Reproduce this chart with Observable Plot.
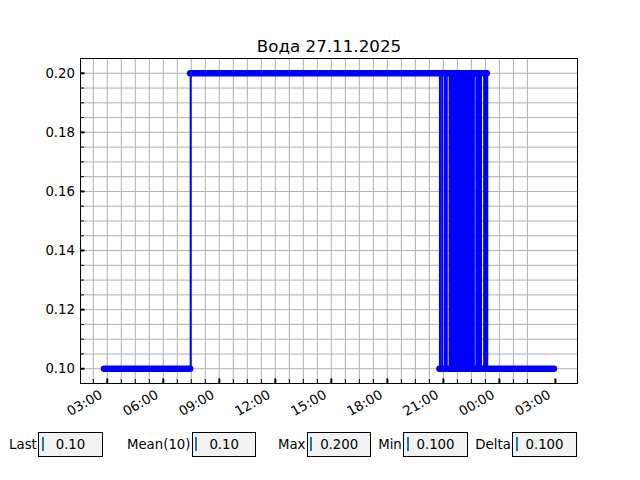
<!DOCTYPE html>
<html><head><meta charset="utf-8">
<script src="https://cdn.jsdelivr.net/npm/d3@7"></script>
<script src="https://cdn.jsdelivr.net/npm/@observablehq/plot@0.6"></script>
<style>
body{margin:0;background:#fff;}
#wrap{position:relative;width:640px;height:480px;font-family:"DejaVu Sans",sans-serif;color:#000;}
.lbl{position:absolute;font-size:13.3px;text-align:right;height:24px;line-height:24px;white-space:nowrap;}
.box{position:absolute;box-sizing:border-box;height:25px;border:1px solid #000;background:#f2f2f2;font-size:13.3px;line-height:23px;text-align:center;}
.cur{position:absolute;left:2.3px;top:4px;width:2px;height:14px;background:#1f77b4;}
</style></head><body><div id="wrap"></div>
<script>
const title = "Вода 27.11.2025";
// change points: value holds from this time until the next one
const times = [
  "2025-11-27T02:51Z","2025-11-27T07:28Z","2025-11-27T20:49Z","2025-11-27T20:56Z",
  "2025-11-27T21:05Z","2025-11-27T21:11Z","2025-11-27T21:20Z","2025-11-27T21:22Z",
  "2025-11-27T21:25Z","2025-11-27T21:27Z","2025-11-27T21:30Z","2025-11-27T21:32Z",
  "2025-11-27T21:35Z","2025-11-27T21:37Z","2025-11-27T21:40Z","2025-11-27T21:42Z",
  "2025-11-27T21:45Z","2025-11-27T21:47Z","2025-11-27T21:50Z","2025-11-27T21:52Z",
  "2025-11-27T21:55Z","2025-11-27T21:57Z","2025-11-27T22:00Z","2025-11-27T22:02Z",
  "2025-11-27T22:05Z","2025-11-27T22:07Z","2025-11-27T22:10Z","2025-11-27T22:12Z",
  "2025-11-27T22:15Z","2025-11-27T22:17Z","2025-11-27T22:20Z","2025-11-27T22:22Z",
  "2025-11-27T22:25Z","2025-11-27T22:27Z","2025-11-27T22:30Z","2025-11-27T22:32Z",
  "2025-11-27T22:35Z","2025-11-27T22:38Z","2025-11-27T22:46Z","2025-11-27T22:48Z",
  "2025-11-27T22:51Z","2025-11-27T22:53Z","2025-11-27T22:56Z","2025-11-27T22:58Z",
  "2025-11-27T23:01Z","2025-11-27T23:11Z","2025-11-27T23:13Z","2025-11-27T23:15Z",
  "2025-11-27T23:17Z","2025-11-27T23:19Z","2025-11-27T23:21Z","2025-11-28T02:57Z"
];
const values = [
  0.10,0.20,0.10,0.20,
  0.10,0.20,0.10,0.20,
  0.10,0.20,0.10,0.20,
  0.10,0.20,0.10,0.20,
  0.10,0.20,0.10,0.20,
  0.10,0.20,0.10,0.20,
  0.10,0.20,0.10,0.20,
  0.10,0.20,0.10,0.20,
  0.10,0.20,0.10,0.20,
  0.10,0.20,0.10,0.20,
  0.10,0.20,0.10,0.20,
  0.10,0.20,0.10,0.20,
  0.10,0.20,0.10,0.10
];
const yTickValues = [0.10,0.12,0.14,0.16,0.18,0.20];
const xTickTimes = ["2025-11-27T03:00Z","2025-11-27T06:00Z","2025-11-27T09:00Z","2025-11-27T12:00Z",
  "2025-11-27T15:00Z","2025-11-27T18:00Z","2025-11-27T21:00Z","2025-11-28T00:00Z","2025-11-28T03:00Z"];
const xDomain = ["2025-11-27T01:34Z","2025-11-28T04:11Z"];
const yDomain = [0.095, 0.205];
const statLabels = ["Last","Mean(10)","Max","Min","Delta"];
const statValues = ["0.10","0.10","0.200","0.100","0.100"];

const pts = times.map((t,i)=>({t:new Date(t), v:values[i]}));
const runs = pts.slice(0,-1).map((p,i)=>({x1:p.t, x2:pts[i+1].t, y:p.v}));
const xTicks = xTickTimes.map(d=>new Date(d));
const minorStep = 45*60*1000;
const xMinor = d3.range(-2, 31).map(k=>new Date(xTicks[0].getTime()+k*minorStep))
  .filter(d=>d>=new Date(xDomain[0]) && d<=new Date(xDomain[1]));
const yMinor = d3.range(19, 42).map(k=>+(k*0.005).toFixed(3));
const yMinorOnly = yMinor.filter(v=>!yTickValues.some(t=>Math.abs(t-v)<1e-9) && v>0.0951 && v<0.2049);
const xMinorOnly = xMinor.filter(d=>!xTicks.some(t=>+t===+d));

const W=640,H=480,mT=58,mL=80,mR=63,mB=97;
const pw=W-mL-mR, ph=H-mT-mB;

const chart = Plot.plot({
  width:W, height:H, marginTop:mT, marginLeft:mL, marginRight:mR, marginBottom:mB,
  style:{fontFamily:"DejaVu Sans", fontSize:"13.3px", background:"white", color:"black"},
  x:{type:"utc", domain:xDomain.map(d=>new Date(d))},
  y:{domain:yDomain},
  marks:[
    Plot.gridX(xMinor, {stroke:"#b0b0b0", strokeOpacity:1, strokeWidth:1}),
    Plot.gridY(yMinor, {stroke:"#b0b0b0", strokeOpacity:1, strokeWidth:1}),
    Plot.ruleY(runs, {x1:"x1", x2:"x2", y:"y", stroke:"#0000ff", strokeWidth:6.5, strokeLinecap:"round"}),
    Plot.line(pts, {x:"t", y:"v", curve:"step-after", stroke:"#0000ff", strokeWidth:2}),
    Plot.tickY(yTickValues, {y:d=>d, insetRight:pw-4.5, stroke:"black", strokeWidth:2}),
    Plot.tickY(yMinorOnly, {y:d=>d, insetRight:pw-4, stroke:"black", strokeWidth:1}),
    Plot.tickX(xTicks, {x:d=>d, insetTop:ph-4.5, stroke:"black", strokeWidth:2}),
    Plot.tickX(xMinorOnly, {x:d=>d, insetTop:ph-4, stroke:"black", strokeWidth:1}),
    Plot.frame({stroke:"black", strokeWidth:1}),
    Plot.axisY(yTickValues, {tickSize:0, tickPadding:5.5, tickFormat:d=>d.toFixed(2), fontSize:13.3}),
    Plot.axisX(xTicks, {tickSize:0, tickRotate:-30, tickPadding:10, dx:-6, tickFormat:d3.utcFormat("%H:%M"), fontSize:13.3}),
    Plot.text([title], {frameAnchor:"top", dy:-7, lineAnchor:"bottom", fontSize:16.7})
  ]
});
const wrap = document.getElementById("wrap");
chart.style.position="absolute"; chart.style.left="0"; chart.style.top="0";
wrap.appendChild(chart);

const boxLeft = [38.3, 192, 307, 403.3, 512.3];
const boxW = 64.4;
statLabels.forEach((lab,i)=>{
  const l=document.createElement("div"); l.className="lbl"; l.textContent=lab;
  l.style.right=(W-boxLeft[i]+1.5)+"px"; l.style.top="432.5px";
  wrap.appendChild(l);
  const b=document.createElement("div"); b.className="box";
  b.style.left=boxLeft[i]+"px"; b.style.top="432.3px"; b.style.width=boxW+"px";
  const c=document.createElement("div"); c.className="cur"; b.appendChild(c);
  const s=document.createElement("span"); s.textContent=statValues[i]; b.appendChild(s);
  wrap.appendChild(b);
});
</script></body></html>
